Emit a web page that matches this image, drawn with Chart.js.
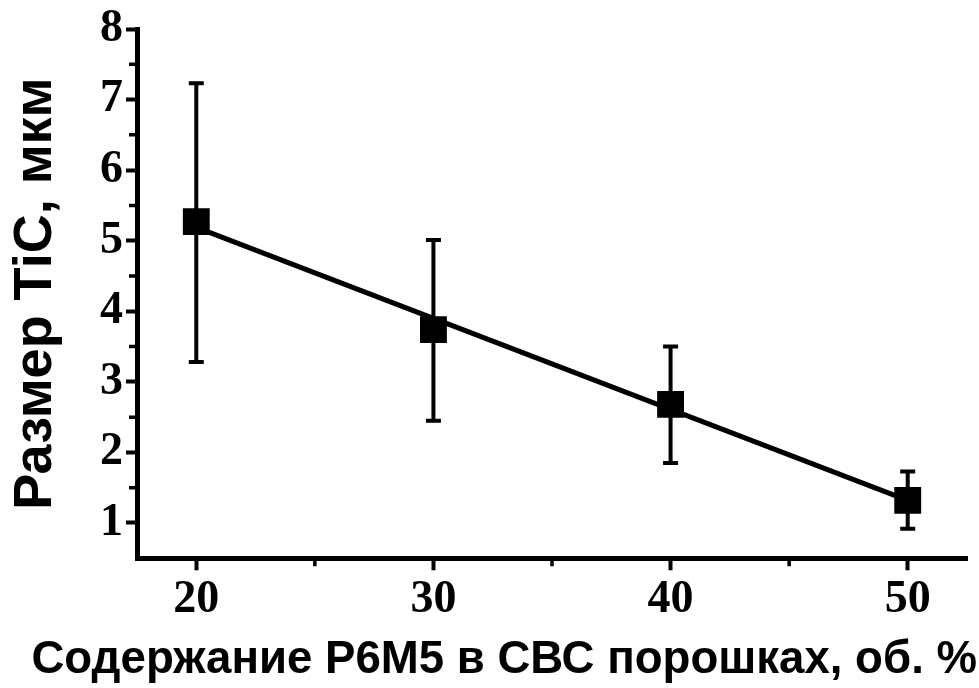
<!DOCTYPE html>
<html><head><meta charset="utf-8">
<script src="https://cdn.jsdelivr.net/npm/chart.js@4/dist/chart.umd.min.js"></script>
<style>html,body{margin:0;padding:0;background:#fff;}#wrap{width:979px;height:688px;}</style>
</head><body><div id="wrap"><canvas id="c" width="979" height="688"></canvas></div>
<script>
// ---- data ----
const contentX   = [20, 30, 40, 50];          // Содержание P6M5, об. %
const sizeTiC    = [5.27, 3.74, 2.68, 1.32];  // Размер TiC, мкм
const errUpper   = [7.23, 5.01, 3.50, 1.73];
const errLower   = [3.28, 2.45, 1.85, 0.92];
const fitX       = [20, 50];                  // linear fit line ends
const fitY       = [5.19, 1.32];
const xTickLabels = [20, 30, 40, 50];
const xMinorTicks = [25, 35, 45];
const yTickLabels = [1, 2, 3, 4, 5, 6, 7, 8];
const yMinorTicks = [1.5, 2.5, 3.5, 4.5, 5.5, 6.5, 7.5];
const xTitle = 'Содержание P6M5 в СВС порошках, об. %';
const yTitle = 'Размер TiC, мкм';

const pts = contentX.map((x, i) => ({x: x, y: sizeTiC[i]}));
const fitPts = fitX.map((x, i) => ({x: x, y: fitY[i]}));

const errorBars = {
  id: 'errorBars',
  beforeDatasetsDraw(chart) {
    const ctx = chart.ctx, xs = chart.scales.x, ys = chart.scales.y;
    ctx.save();
    ctx.strokeStyle = '#000';
    ctx.lineWidth = 4;
    contentX.forEach((xv, i) => {
      const px = xs.getPixelForValue(xv);
      const top = ys.getPixelForValue(errUpper[i]);
      const bot = ys.getPixelForValue(errLower[i]);
      ctx.beginPath();
      ctx.moveTo(px, top); ctx.lineTo(px, bot);
      ctx.moveTo(px - 7.5, top); ctx.lineTo(px + 7.5, top);
      ctx.moveTo(px - 7.5, bot); ctx.lineTo(px + 7.5, bot);
      ctx.stroke();
    });
    ctx.restore();
  }
};

// shorter minor ticks, placed through the scales
const minorTicks = {
  id: 'minorTicks',
  afterDraw(chart) {
    const ctx = chart.ctx, xs = chart.scales.x, ys = chart.scales.y, a = chart.chartArea;
    ctx.save();
    ctx.strokeStyle = '#000';
    ctx.lineWidth = 3.5;
    ctx.beginPath();
    xMinorTicks.forEach(v => { const p = xs.getPixelForValue(v); ctx.moveTo(p, a.bottom); ctx.lineTo(p, a.bottom + 8); });
    yMinorTicks.forEach(v => { const p = ys.getPixelForValue(v); ctx.moveTo(a.left, p); ctx.lineTo(a.left - 8, p); });
    ctx.stroke();
    ctx.restore();
  }
};

const tickFont = {family: 'Liberation Serif', weight: 'bold', size: 46};

new Chart(document.getElementById('c'), {
  type: 'scatter',
  data: {
    datasets: [
      {
        data: pts,
        pointStyle: 'rect',
        pointRadius: 19,
        backgroundColor: '#000',
        borderColor: '#000',
        borderWidth: 0,
        showLine: false,
        order: 0
      },
      {
        data: fitPts,
        showLine: true,
        borderColor: '#000',
        borderWidth: 5,
        pointRadius: 0,
        fill: false,
        order: 1
      }
    ]
  },
  options: {
    responsive: false,
    devicePixelRatio: 1,
    animation: false,
    events: [],
    layout: {autoPadding: false, padding: {top: 29, left: 0, right: 2, bottom: 0}},
    plugins: {
      legend: {display: false},
      tooltip: {enabled: false},
      title: {
        display: true,
        position: 'bottom',
        align: 'end',
        text: xTitle,
        color: '#000',
        font: {family: 'Liberation Sans', weight: 'bold', size: 45.6, lineHeight: 1.2},
        padding: {top: 0, bottom: 0}
      }
    },
    scales: {
      x: {
        type: 'linear',
        min: 17.5, max: 52.5,
        afterBuildTicks: s => { s.ticks = xTickLabels.map(v => ({value: v})); },
        afterFit: s => { s.height = 75; s.paddingLeft = 0; s.paddingRight = 0; },
        border: {display: true, color: '#000', width: 5},
        grid: {display: true, drawOnChartArea: false, drawTicks: true, tickLength: 12, tickColor: '#000', tickWidth: 4},
        ticks: {autoSkip: false, maxRotation: 0, padding: 2, color: '#000', font: tickFont,
                callback: v => String(v)}
      },
      y: {
        type: 'linear',
        min: 0.5, max: 8,
        afterBuildTicks: s => { s.ticks = yTickLabels.map(v => ({value: v})); },
        afterFit: s => { s.width = 137; s.paddingTop = 0; s.paddingBottom = 0; },
        border: {display: true, color: '#000', width: 5},
        grid: {display: true, drawOnChartArea: false, drawTicks: true, tickLength: 11, tickColor: '#000', tickWidth: 4},
        ticks: {autoSkip: false, padding: 3, color: '#000', font: tickFont,
                callback: v => String(v)},
        title: {display: true, text: yTitle, color: '#000',
                font: {family: 'Liberation Sans', weight: 'bold', size: 54, lineHeight: 1.2},
                padding: {top: 4, bottom: 0}}
      },
      yR: {
        type: 'linear',
        position: 'right',
        display: true,
        afterFit: s => { s.width = 10; },
        border: {display: false},
        grid: {display: false},
        ticks: {display: false}
      }
    }
  },
  plugins: [errorBars, minorTicks]
});
</script>
</body></html>
